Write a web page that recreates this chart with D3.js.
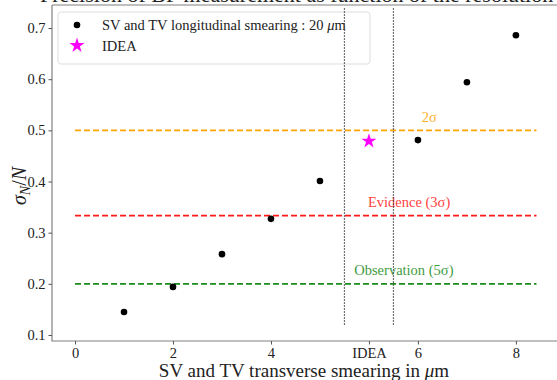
<!DOCTYPE html>
<html>
<head>
<meta charset="utf-8">
<script src="https://cdn.jsdelivr.net/npm/d3@7"></script>
<style>
  body { margin: 0; background: #fff; }
  svg text { font-family: "Liberation Serif", "DejaVu Serif", serif; fill: #222; }
</style>
</head>
<body>
<div id="chart"></div>
<script>
// slots along the x axis (IDEA is placed between 5 and 6)
const slots = ["0", "1", "2", "3", "4", "5", "IDEA", "6", "7", "8"];
const tickLabels = ["0", "2", "4", "IDEA", "6", "8"];
const smearing = ["1", "2", "3", "4", "5", "6", "7", "8"];
const sigmaN = [0.145, 0.194, 0.258, 0.327, 0.401, 0.481, 0.594, 0.686];
const ideaValue = 0.479;
const yTicks = [0.1, 0.2, 0.3, 0.4, 0.5, 0.6, 0.7];
const thresholds = [
  { value: 0.5, color: "#ffa500", label: "2σ", lx: 7.08, ly: 0.517 },
  { value: 1 / 3, color: "#ff1a1a", label: "Evidence (3σ)", lx: 5.98, ly: 0.35 },
  { value: 0.2, color: "#1a8c1a", label: "Observation (5σ)", lx: 5.7, ly: 0.218 },
];
const ideaBounds = [5.5, 6.5];

const W = 557, H = 380;
const svg = d3.select("#chart").append("svg").attr("width", W).attr("height", H);

const x = d3.scaleLinear().domain([-0.47, 9.9]).range([52, 560]);
const y = d3.scaleLinear().domain([0.0883, 0.745]).range([341, 5]);
const pos = (s) => slots.indexOf(s);

// title, cut off at the top
svg.append("text")
  .attr("x", 40).attr("y", 2)
  .attr("font-size", 22)
  .text("Precision of BF measurement as function of the resolution");

// spines
svg.append("path")
  .attr("d", `M52,5H${W + 5}M52,5V341H${W + 5}`)
  .attr("fill", "none").attr("stroke", "#808080").attr("stroke-width", 1.2);

const xAxis = svg.append("g")
  .attr("transform", "translate(0,341)")
  .call(d3.axisBottom(x)
    .tickValues(tickLabels.map(pos))
    .tickFormat((d) => slots[d])
    .tickSize(3.5).tickPadding(3));
const yAxis = svg.append("g")
  .attr("transform", "translate(52,0)")
  .call(d3.axisLeft(y).tickValues(yTicks).tickFormat(d3.format(".1f")).tickSize(3.5).tickPadding(3));
[xAxis, yAxis].forEach((g) => {
  g.select(".domain").remove();
  g.selectAll(".tick line").attr("stroke", "#555");
  g.selectAll(".tick text").attr("font-size", 14.5).attr("fill", "#222")
    .style("font-family", '"Liberation Serif", serif');
});

// threshold lines
thresholds.forEach((t) => {
  svg.append("line")
    .attr("x1", x(0)).attr("x2", x(9.42))
    .attr("y1", y(t.value)).attr("y2", y(t.value))
    .attr("stroke", t.color).attr("stroke-width", 1.6)
    .attr("stroke-dasharray", "6,3");
  svg.append("text")
    .attr("x", x(t.lx)).attr("y", y(t.ly))
    .attr("font-size", 14.5)
    .style("fill", t.color).attr("opacity", 0.85)
    .text(t.label);
});

// points
svg.append("g").selectAll("circle")
  .data(smearing)
  .join("circle")
  .attr("cx", (d) => x(pos(d)))
  .attr("cy", (d, i) => y(sigmaN[i]))
  .attr("r", 3.3)
  .attr("fill", "#000");

svg.append("path")
  .attr("d", d3.symbol(d3.symbolStar, 70)())
  .attr("transform", `translate(${x(pos("IDEA"))},${y(ideaValue)})`)
  .attr("fill", "#ff00ff");

// legend
const lg = svg.append("g");
lg.append("rect")
  .attr("x", 58).attr("y", 12).attr("width", 312).attr("height", 52)
  .attr("rx", 3).attr("fill", "#fff").attr("fill-opacity", 0.85)
  .attr("stroke", "#ddd");
lg.append("circle").attr("cx", 77).attr("cy", 25).attr("r", 3.3).attr("fill", "#000");
lg.append("path")
  .attr("d", d3.symbol(d3.symbolStar, 70)())
  .attr("transform", "translate(77,45.5)")
  .attr("fill", "#ff00ff");
const t1 = lg.append("text").attr("x", 102).attr("y", 30).attr("font-size", 14.5);
t1.append("tspan").text("SV and TV longitudinal smearing : 20 ");
t1.append("tspan").attr("font-style", "italic").text("μ");
t1.append("tspan").text("m");
lg.append("text").attr("x", 102).attr("y", 50.5).attr("font-size", 14.5).text("IDEA");

// IDEA bounds, drawn over the legend
ideaBounds.forEach((b) => {
  svg.append("line")
    .attr("x1", x(b)).attr("x2", x(b))
    .attr("y1", y(0.12)).attr("y2", y(0.741))
    .attr("stroke", "#444").attr("stroke-width", 1.2)
    .attr("stroke-dasharray", "1.5,1.5");
});

// axis labels
const xl = svg.append("text")
  .attr("x", 304).attr("y", 377)
  .attr("text-anchor", "middle").attr("font-size", 19);
xl.append("tspan").text("SV and TV transverse smearing in ");
xl.append("tspan").attr("font-style", "italic").text("μ");
xl.append("tspan").text("m");

const yl = svg.append("text")
  .attr("transform", "translate(26,186) rotate(-90)")
  .attr("text-anchor", "middle").attr("font-size", 20);
yl.append("tspan").attr("font-style", "italic").text("σ");
yl.append("tspan").attr("font-style", "italic").attr("font-size", 14).attr("dy", 4).text("N");
yl.append("tspan").attr("dy", -4).text("/");
yl.append("tspan").attr("font-style", "italic").text("N");
</script>
</body>
</html>
